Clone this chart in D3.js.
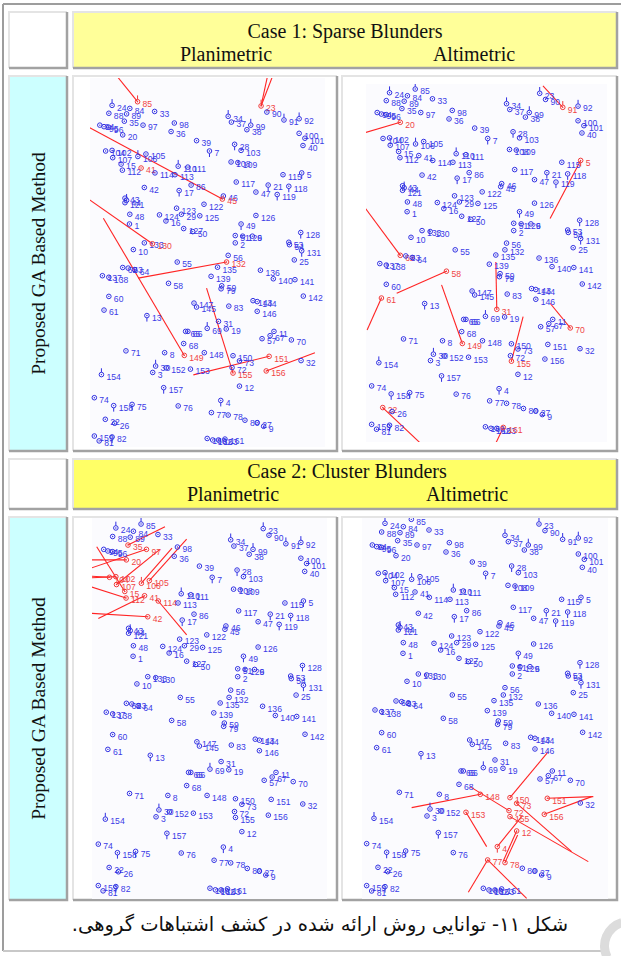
<!DOCTYPE html>
<html>
<head>
<meta charset="utf-8">
<script src="https://cdn.jsdelivr.net/npm/d3@7"></script>
<style>
  html, body { margin: 0; padding: 0; background: #fff; }
  svg { display: block; }
</style>
</head>
<body>
<svg id="fig" width="621" height="956"></svg>
<script>
// ---- Control point network (plan coordinates, y grows southward) ----
const pointIds = [
  24, 84, 85, 33, 88, 89, 35, 97, 98, 36, 20, 94, 95, 96, 39, 7, 28, 103, 108, 109,
  104, 102, 107, 106, 105, 15, 112, 41, 114, 110, 111, 113, 23, 90, 91, 92, 34, 37, 99, 38,
  100, 101, 40, 115, 5, 117, 21, 118, 47, 119, 42, 17, 86, 43, 44, 121, 46, 45, 122, 123,
  124, 29, 125, 126, 48, 16, 1, 49, 127, 50, 51, 129, 6, 2, 128, 53, 54, 131, 133, 130,
  10, 56, 132, 55, 25, 62, 63, 64, 137, 138, 135, 136, 139, 140, 141, 58, 59, 79, 142, 60,
  147, 145, 83, 143, 144, 146, 61, 13, 31, 65, 66, 69, 19, 68, 57, 67, 11, 70, 71, 8,
  149, 148, 150, 73, 151, 32, 30, 152, 3, 153, 72, 155, 156, 154, 157, 12, 74, 158, 75, 76,
  4, 77, 78, 80, 27, 9, 22, 26, 159, 81, 82, 160, 162, 163, 161
];
const pointX = [
  150, 205, 229, 282, 140, 195, 188, 246, 343, 333, 183, 112, 125, 140, 412, 452, 530, 550, 519, 540,
  130, 150, 152, 230, 255, 178, 182, 240, 283, 355, 385, 345, 612, 630, 683, 730, 510, 520, 580, 568,
  730, 748, 742, 680, 738, 535, 634, 698, 596, 662, 250, 358, 395, 190, 195, 190, 495, 492, 435, 350,
  297, 365, 422, 596, 205, 317, 204, 550, 372, 400, 532, 555, 585, 532, 735, 698, 700, 738, 250, 275,
  216, 510, 505, 352, 715, 183, 200, 220, 120, 140, 477, 610, 457, 650, 717, 325, 490, 488, 743, 140,
  404, 412, 512, 587, 600, 600, 125, 258, 480, 378, 385, 445, 504, 372, 615, 640, 652, 706, 193, 313,
  374, 436, 525, 545, 637, 736, 285, 318, 276, 393, 522, 525, 628, 117, 310, 545, 95, 155, 212, 355,
  487, 458, 510, 562, 600, 620, 129, 158, 95, 110, 150, 445, 462, 480, 500
];
const pointY = [
  40, 50, 28, 60, 66, 68, 92, 105, 98, 126, 137, 105, 110, 112, 156, 190, 168, 188, 226, 228,
  190, 188, 212, 208, 200, 233, 253, 246, 262, 240, 243, 268, 42, 62, 88, 84, 76, 95, 105, 120,
  132, 148, 172, 268, 262, 292, 302, 306, 325, 333, 310, 320, 302, 345, 352, 360, 338, 348, 365, 378,
  400, 398, 403, 402, 398, 420, 430, 430, 445, 455, 468, 470, 470, 492, 458, 490, 498, 518, 492, 495,
  514, 533, 555, 555, 548, 573, 575, 580, 600, 605, 572, 582, 602, 610, 613, 625, 633, 643, 667, 668,
  690, 703, 700, 682, 685, 717, 713, 731, 750, 783, 783, 773, 775, 823, 807, 797, 783, 811, 847, 853,
  862, 853, 863, 880, 865, 879, 897, 903, 918, 907, 902, 920, 913, 925, 968, 963, 1001, 1027, 1023, 1028,
  1010, 1050, 1058, 1075, 1083, 1095, 1072, 1085, 1127, 1143, 1130, 1135, 1140, 1140, 1137
];
// Station symbols carrying an orientation tick
const stemUp = [85, 92, 91, 99, 69, 30, 154, 110, 106, 44, 34, 23, 24];
const stemDown = [7, 21, 119, 118, 17, 13, 157, 158, 4, 82, 128, 131, 49, 75, 5, 28];
// Points that exist only in the sparse-blunder case
const sparseOnlyIds = [149];

// ---- Detected blunders: point id and end of its error vector (null = no vector) ----
const c1PlanIds  = [85, 23, 23, 41, 45, 130, 149, 132, 155, 151, 156];
const c1PlanEndX = [150, 636, 655, null, 50, 57, 123, 231, 443, 402, 779];
const c1PlanEndY = [-76, -76, -76, null, 96, 333, 411, 608, 641, 926, 853];

const c1AltIds  = [20, 91, 5, 62, 58, 61, 149, 31, 155, 70, 22, 161];
const c1AltEndX = [59, 622, 644, 59, 172, 81, 310, 477, 561, 644, 283, 460];
const c1AltEndY = [176, 18, 452, 395, 697, 818, 670, 595, 774, 730, 1227, 1227];

const c2PlanIds  = [35, 97, 20, 104, 102, 107, 15, 112, 41, 106, 105, 114, 42];
const c2PlanEndX = [304, 63, 63, 63, 63, 288, 90, 63, 95, 326, 372, 372, 63];
const c2PlanEndY = [36, 165, 137, 186, 192, 105, 97, 216, 315, 101, 74, 365, 299];

const c2AltIds  = [148, 150, 151, 156, 153, 73, 155, 72, 12, 4, 77, 77, 78];
const c2AltEndX = [230, 640, 775, 770, 455, 710, 760, 405, 505, 560, 400, 575, 548];
const c2AltEndY = [893, 725, 860, 860, 1010, 1025, 1055, 830, 1053, 920, 1147, 1165, 975];

// ---- Text ----
const caseTitles = ["Case 1: Sparse Blunders", "Case 2: Cluster Blunders"];
const columnTitles = ["Planimetric", "Altimetric"];
const rowTitle = "Proposed GA Based Method";
const caption = "شکل ۱۱- توانایی روش ارائه شده در کشف اشتباهات گروهی.";

// ---------------------------------------------------------------------
const svg = d3.select("#fig");
const BLUE = "#3030e2", RED = "#f23a3a";

const points = pointIds.map((id, i) => ({ id, x: pointX[i], y: pointY[i] }));
const byId = new Map(points.map(p => [p.id, p]));

// page frame
svg.append("rect").attr("width", 621).attr("height", 956).attr("fill", "#fff");
const frame = svg.append("g").attr("stroke", "#9d9d9d").attr("stroke-width", 2);
frame.append("line").attr("x1", 3).attr("y1", 4).attr("x2", 621).attr("y2", 4);
frame.append("line").attr("x1", 3).attr("y1", 4).attr("x2", 3).attr("y2", 951);
frame.append("line").attr("x1", 3).attr("y1", 951).attr("x2", 603).attr("y2", 951).attr("stroke", "#c8c8c8");
// page-corner ornament
svg.append("path")
  .attr("d", d3.arc()({ innerRadius: 20, outerRadius: 29, startAngle: -2.05, endAngle: -0.3 }))
  .attr("transform", "translate(629,946)")
  .attr("fill", "#dcdcdc");

// table cell with bevelled border
function cell(x0, y0, x1, y1, fill) {
  const g = svg.append("g");
  g.append("rect").attr("x", x0).attr("y", y0).attr("width", x1 - x0).attr("height", y1 - y0).attr("fill", fill);
  g.append("path").attr("d", `M${x0},${y1} L${x0},${y0} L${x1},${y0}`)
    .attr("fill", "none").attr("stroke", "#e4e4e4").attr("stroke-width", 2);
  g.append("path").attr("d", `M${x1},${y0} L${x1},${y1} L${x0},${y1}`)
    .attr("fill", "none").attr("stroke", "#a2a2a2").attr("stroke-width", 2.5);
  return g;
}

// header rows
const headers = [
  { y0: 12, y1: 68, fill: "#ffff99", t1: 38, t2: 61, px: 226, ax: 474, cx: 345 },
  { y0: 459, y1: 509, fill: "#ffff66", t1: 478, t2: 501, px: 233, ax: 467, cx: 347 }
];
headers.forEach((h, i) => {
  cell(9, h.y0, 67, h.y1, "#ffffff");
  cell(73, h.y0, 617, h.y1, h.fill);
  const t = svg.append("g").attr("font-family", "'Liberation Serif', 'Times New Roman', serif")
    .attr("font-size", 20).attr("fill", "#111").attr("text-anchor", "middle");
  t.append("text").attr("x", h.cx).attr("y", h.t1).text(caseTitles[i]);
  t.append("text").attr("x", h.px).attr("y", h.t2).text(columnTitles[0]);
  t.append("text").attr("x", h.ax).attr("y", h.t2).text(columnTitles[1]);
});

// panel rows with the rotated method label
const rows = [{ y0: 76, y1: 451 }, { y0: 517, y1: 900 }];
rows.forEach(r => {
  cell(9, r.y0, 67, r.y1, "#ccffff");
  const cy = (r.y0 + r.y1) / 2;
  svg.append("text")
    .attr("transform", `translate(45,${cy}) rotate(-90)`)
    .attr("text-anchor", "middle")
    .attr("font-family", "'Liberation Serif', 'Times New Roman', serif")
    .attr("font-size", 19.5).attr("fill", "#111")
    .text(rowTitle);
});

// each panel: cell box, plot area, affine plan->page mapping and its blunders
const panels = [
  { box: [73, 76, 337, 451], clip: [90, 78, 325, 447], ax: 63.7, bx: 0.3225, ay: 93.2, by: 0.3042,
    sparse: true, ids: c1PlanIds, ex: c1PlanEndX, ey: c1PlanEndY },
  { box: [342, 76, 617, 451], clip: [366, 84, 607, 442], ax: 340.8, bx: 0.325, ay: 80.5, by: 0.3051,
    sparse: true, ids: c1AltIds, ex: c1AltEndX, ey: c1AltEndY },
  { box: [73, 517, 337, 900], clip: [92, 518, 327, 899], ax: 68.0, bx: 0.319, ay: 514.8, by: 0.329,
    sparse: false, ids: c2PlanIds, ex: c2PlanEndX, ey: c2PlanEndY },
  { box: [342, 517, 617, 900], clip: [362, 518, 608, 899], ax: 335, bx: 0.3333, ay: 510, by: 0.3333,
    sparse: false, ids: c2AltIds, ex: c2AltEndX, ey: c2AltEndY }
];

panels.forEach((p, k) => {
  const [x0, y0, x1, y1] = p.box;
  cell(x0, y0, x1, y1, "#ffffff");
  const [cx0, cy0, cx1, cy1] = p.clip;
  svg.append("rect").attr("x", cx0).attr("y", cy0).attr("width", cx1 - cx0).attr("height", cy1 - cy0)
    .attr("fill", "#fbfbfe");

  const clipId = "clip" + k;
  svg.append("clipPath").attr("id", clipId).append("rect")
    .attr("x", cx0).attr("y", cy0).attr("width", cx1 - cx0).attr("height", cy1 - cy0);

  const xs = d3.scaleLinear().domain([0, 800]).range([p.ax, p.ax + 800 * p.bx]);
  const ys = d3.scaleLinear().domain([0, 1200]).range([p.ay, p.ay + 1200 * p.by]);

  const g = svg.append("g").attr("clip-path", `url(#${clipId})`);
  const redSet = new Set(p.ids);

  // error vectors
  const vectors = p.ids.map((id, i) => ({ id, ex: p.ex[i], ey: p.ey[i] }))
    .filter(v => v.ex !== null && byId.has(v.id));
  g.append("g").selectAll("line").data(vectors).join("line")
    .attr("x1", v => xs(byId.get(v.id).x)).attr("y1", v => ys(byId.get(v.id).y))
    .attr("x2", v => xs(v.ex)).attr("y2", v => ys(v.ey))
    .attr("stroke", "#ff2424").attr("stroke-width", 1.1);

  // stations
  const shown = points.filter(pt => p.sparse || !sparseOnlyIds.includes(pt.id));
  const st = g.append("g").selectAll("g").data(shown).join("g")
    .attr("transform", d => `translate(${xs(d.x)},${ys(d.y)})`);
  const col = d => redSet.has(d.id) ? RED : BLUE;
  st.append("circle").attr("r", 2.3).attr("fill", "none").attr("stroke", col).attr("stroke-width", 1);
  st.append("circle").attr("r", 0.7).attr("fill", col);
  st.filter(d => stemUp.includes(d.id)).append("line")
    .attr("x1", 0).attr("x2", 0).attr("y1", -2.3).attr("y2", -6.3).attr("stroke", col).attr("stroke-width", 1);
  st.filter(d => stemDown.includes(d.id)).append("line")
    .attr("x1", 0).attr("x2", 0).attr("y1", 2.3).attr("y2", 6).attr("stroke", col).attr("stroke-width", 1);
  st.append("text").attr("x", 5).attr("y", 5.3)
    .attr("font-family", "'Liberation Sans', Arial, sans-serif").attr("font-size", 8.6)
    .attr("fill", d => redSet.has(d.id) ? "#f04545" : "#3a3ae6")
    .text(d => d.id);
});

// caption
svg.append("text")
  .attr("x", 320).attr("y", 931)
  .attr("text-anchor", "middle")
  .attr("direction", "rtl")
  .attr("font-family", "'DejaVu Sans', sans-serif")
  .attr("font-size", 19.5).attr("fill", "#111")
  .text(caption);
</script>
</body>
</html>
